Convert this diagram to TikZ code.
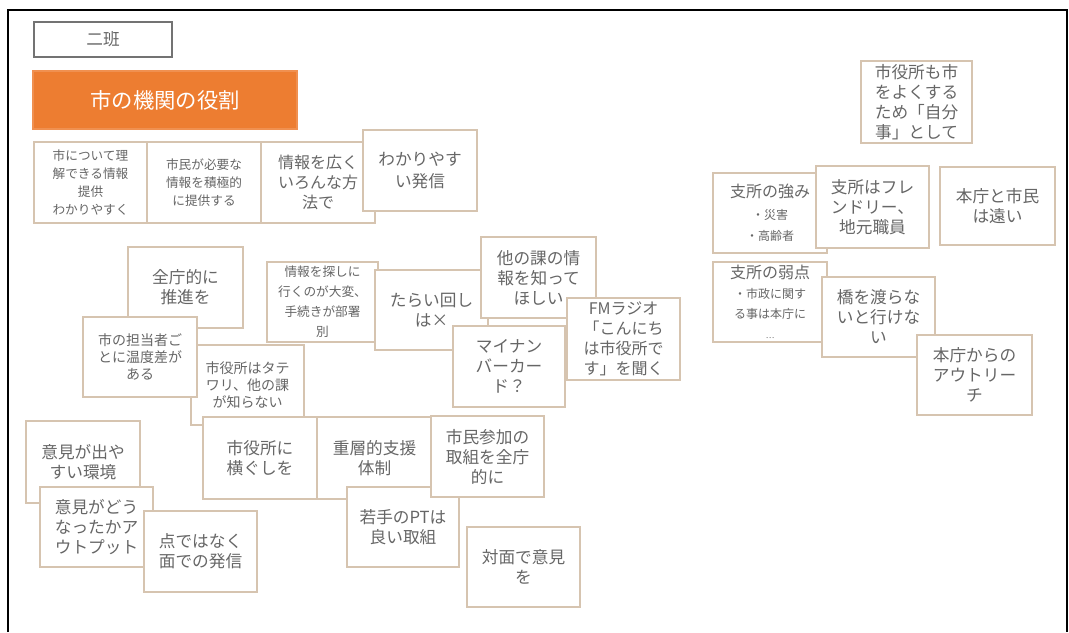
\documentclass[tikz,border=0pt]{standalone}
\usepackage{fontspec}
\setmainfont{Noto Sans CJK JP}
\definecolor{cardline}{HTML}{D6C4B0}
\definecolor{cardtext}{HTML}{666666}
\definecolor{titleorange}{HTML}{ED7D31}
\newcommand{\jfs}[2]{\fontsize{#1}{#2}\selectfont}
\newcommand{\stickynote}[7]{\node[card,#1,
  minimum width={(#5-#3)*0.75pt}, minimum height={(#6-#4)*0.75pt}]
  (#2) at ({(#3+#5)/2},{(#4+#6)/2}) {#7};}
\begin{document}
\begin{tikzpicture}[x=0.75pt, y=-0.75pt,
  card/.style={draw=cardline, line width=0.8pt, fill=white, inner sep=0pt,
    align=center, text=cardtext, font=\jfs{12.5}{15}},
  smallcard/.style={font=\jfs{9.5}{13.5}},
  midcard/.style={font=\jfs{10.5}{13}}]
\useasboundingbox (0,0) rectangle (1069,632);
\fill[white] (0,0) rectangle (1069,632);
\coordinate (fbl) at (8,632);
\coordinate (ftl) at (8,10);
\coordinate (ftr) at (1067,10);
\coordinate (fbr) at (1067,632);
\draw[line width=1.6pt] (fbl) -- (ftl) -- (ftr) -- (fbr);

\stickynote{draw=black!55, line width=1pt}{han}{34}{22}{172}{57}{二班}
\stickynote{fill=titleorange, draw=titleorange!85!white, text=white, font=\jfs{16}{18}}{title}{33}{71}{297}{129}{市の機関の役割}

\stickynote{smallcard}{a}{34}{142}{147}{223}{市について理\\解できる情報\\提供\\わかりやすく}
\stickynote{smallcard}{b}{147}{142}{261}{223}{市民が必要な\\情報を積極的\\に提供する}
\stickynote{font=\jfs{12}{15}}{c}{261}{142}{375}{223}{情報を広く\\いろんな方\\法で}
\stickynote{font=\jfs{12.5}{16}}{d}{363}{130}{477}{211}{わかりやす\\い発信}

\stickynote{}{n11}{128}{247}{243}{328}{全庁的に\\推進を}
\stickynote{midcard}{n14}{191}{345}{304}{425}{市役所はタテ\\ワリ、他の課\\が知らない}
\stickynote{midcard}{n13}{83}{317}{197}{397}{市の担当者ご\\とに温度差が\\ある}

\stickynote{font=\jfs{9.5}{15}}{n12}{267}{262}{378}{342}{情報を探しに\\行くのが大変、\\手続きが部署\\別}
\stickynote{}{n15}{375}{270}{488}{350}{たらい回し\\は×}
\stickynote{}{n16}{481}{237}{596}{318}{他の課の情\\報を知って\\ほしい}
\stickynote{}{n18}{453}{326}{565}{407}{マイナン\\バーカー\\ド？}
\stickynote{font=\jfs{12}{15}}{n17}{567}{298}{680}{380}{FMラジオ\\「こんにち\\は市役所で\\す」を聞く}

\stickynote{}{n19}{26}{421}{140}{503}{意見が出や\\すい環境}
\stickynote{}{n20}{40}{487}{153}{567}{意見がどう\\なったかア\\ウトプット}
\stickynote{}{n21}{144}{511}{257}{592}{点ではなく\\面での発信}

\stickynote{}{n22}{203}{417}{317}{499}{市役所に\\横ぐしを}
\stickynote{}{n23}{317}{417}{432}{499}{重層的支援\\体制}
\stickynote{}{n25}{347}{487}{459}{567}{若手のPTは\\良い取組}
\stickynote{}{n24}{431}{416}{544}{497}{市民参加の\\取組を全庁\\的に}
\stickynote{}{n26}{467}{527}{580}{607}{対面で意見\\を}

\stickynote{}{n4}{861}{61}{972}{143}{市役所も市\\をよくする\\ため「自分\\事」として}
\stickynote{font=\jfs{12}{16}}{n5}{713}{173}{827}{253}{支所の強み\\{\jfs{9}{12}・災害}\\{\jfs{9}{12}・高齢者}}
\stickynote{}{n6}{816}{166}{929}{248}{支所はフレ\\ンドリー、\\地元職員}
\stickynote{}{n7}{940}{167}{1055}{245}{本庁と市民\\は遠い}
\stickynote{font=\jfs{12}{15}}{n8}{713}{262}{827}{342}{支所の弱点\\{\jfs{9}{14}・市政に関す}\\{\jfs{9}{14}る事は本庁に}\\{\jfs{6}{10}…}}
\stickynote{}{n9}{822}{277}{935}{357}{橋を渡らな\\いと行けな\\い}
\stickynote{}{n10}{917}{335}{1032}{415}{本庁からの\\アウトリー\\チ}
\end{tikzpicture}
\end{document}
